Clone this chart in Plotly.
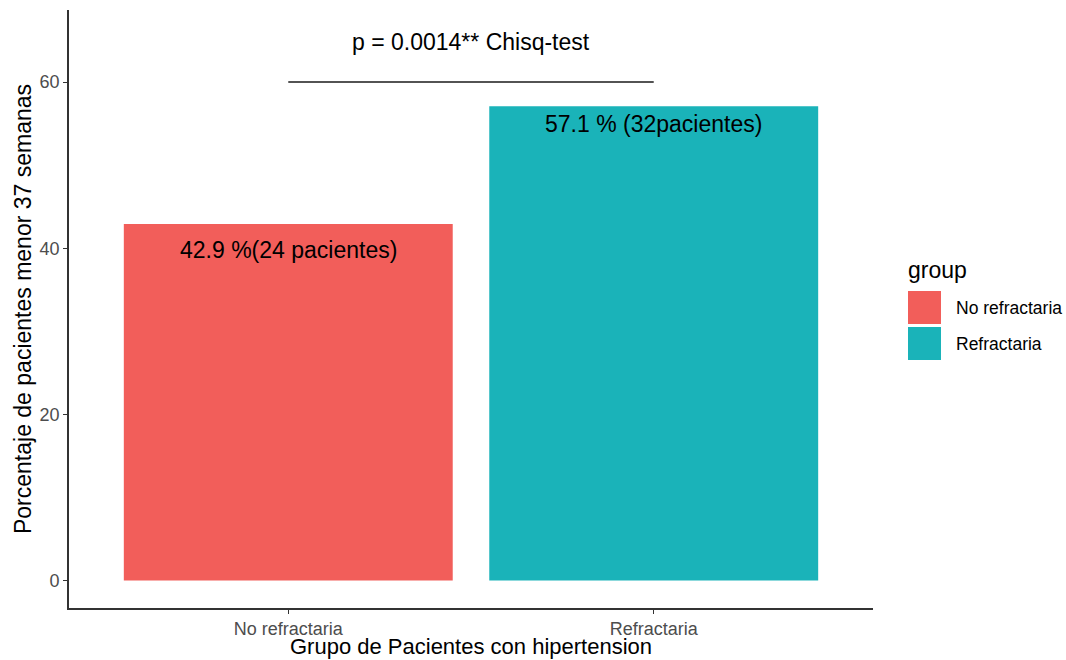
import plotly.graph_objects as go

# ---- data ----
categories = ["No refractaria", "Refractaria"]
percentages = [42.9, 57.1]
bar_labels = ["42.9 %(24 pacientes)", "57.1 % (32pacientes)"]
colors = ["#F25E5A", "#1AB3B9"]
sig_y = 60
sig_label = "p = 0.0014** Chisq-test"
y_ticks = [0, 20, 40, 60]
x_title = "Grupo de Pacientes con hipertension"
y_title = "Porcentaje de pacientes menor 37 semanas"
legend_title = "group"

FONT = "Liberation Sans, Arial, Helvetica, sans-serif"

# body margin is removed in the page, so figure coordinates = page coordinates
FW, FH = 1066, 660
L, T, W, H = 69, 10, 804, 598

fig = go.Figure()
for cat, val, col in zip(categories, percentages, colors):
    fig.add_trace(go.Bar(x=[cat], y=[val], marker=dict(color=col, line=dict(width=0)),
                         width=0.9, name=cat, showlegend=False, hoverinfo="x+y"))

# significance bracket
fig.add_trace(go.Scatter(x=categories, y=[sig_y, sig_y], mode="lines",
                         line=dict(color="#1a1a1a", width=1.6), showlegend=False,
                         hoverinfo="skip"))

annotations = []
shifts = [-26, -18]
for cat, val, lab, sh in zip(categories, percentages, bar_labels, shifts):
    annotations.append(dict(x=cat, y=val, text=lab, showarrow=False, yanchor="middle",
                            yshift=sh, font=dict(family=FONT, size=23, color="#000000")))
annotations.append(dict(x=0.5, y=sig_y, text=sig_label, showarrow=False, yanchor="middle",
                        yshift=40, font=dict(family=FONT, size=23, color="#000000")))

# helpers: page pixel -> paper coordinates
def px(x): return (x - L) / W
def py(y): return (T + H - y) / H

# x-axis title
annotations.append(dict(xref="paper", yref="paper", x=0.5, y=py(646), text=x_title,
                        showarrow=False, xanchor="center", yanchor="middle",
                        font=dict(family=FONT, size=22, color="#000000")))

# manual legend (ggplot-style large keys)
annotations.append(dict(xref="paper", yref="paper", x=px(906), y=py(270), text=legend_title,
                        showarrow=False, xanchor="left", yanchor="middle",
                        font=dict(family=FONT, size=23, color="#000000")))
shapes = []
key_tops = [291, 327]
for cat, col, top in zip(categories, colors, key_tops):
    shapes.append(dict(type="rect", xref="paper", yref="paper",
                       x0=px(908), x1=px(941), y0=py(top + 33), y1=py(top),
                       fillcolor=col, line=dict(width=0)))
    annotations.append(dict(xref="paper", yref="paper", x=px(954), y=py(top + 17), text=cat,
                            showarrow=False, xanchor="left", yanchor="middle",
                            font=dict(family=FONT, size=17.5, color="#000000")))

fig.update_layout(
    width=FW, height=FH,
    margin=dict(l=L, r=FW - L - W, t=T, b=FH - T - H),
    plot_bgcolor="white", paper_bgcolor="white",
    bargap=0.1,
    annotations=annotations, shapes=shapes,
    font=dict(family=FONT),
)
fig.update_xaxes(
    type="category", range=[-0.6, 1.6], showline=True, linecolor="#333333", linewidth=1.6,
    ticks="outside", ticklen=4, tickcolor="#333333", tickwidth=1.2, automargin=False,
    tickfont=dict(family=FONT, size=18, color="#4d4d4d"), showgrid=False, zeroline=False,
)
fig.update_yaxes(
    range=[-3.3, 68.67], tickvals=y_ticks, showline=True, linecolor="#333333", linewidth=1.6,
    ticks="outside", ticklen=4, tickcolor="#333333", tickwidth=1.2, automargin=False,
    tickfont=dict(family=FONT, size=18, color="#4d4d4d"), showgrid=False, zeroline=False,
    title=dict(text=y_title, standoff=2,
               font=dict(family=FONT, size=23, color="#000000")),
)

fig.write_html("out.html", config={"displayModeBar": False},
               post_script="document.body.style.margin='0';document.body.style.overflow='hidden';")
